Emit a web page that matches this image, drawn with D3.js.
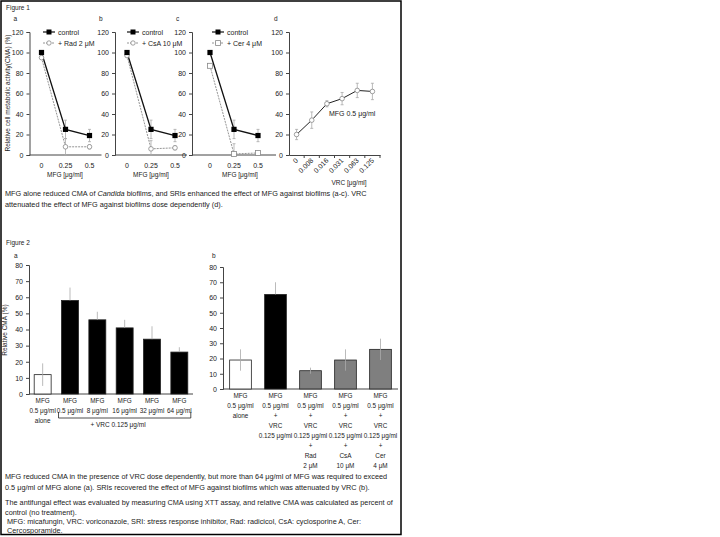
<!DOCTYPE html>
<html><head><meta charset="utf-8">
<script src="https://cdn.jsdelivr.net/npm/d3@7"></script>
<style>
body{margin:0;background:#fff;}
text{font-family:"Liberation Sans",Arial,sans-serif;fill:#222;}
</style></head><body>
<svg id="chart" width="720" height="537"></svg>
<script>
// ---------- DATA ----------
const fig1Doses = ["0", "0.25", "0.5"];
const controlVals = [100, 25, 19];
const controlErr = [0, 9, 6];
const radVals = [95, 8, 8];
const radErr = [0, 8, 2];
const csaVals = [97, 6, 7];
const csaErr = [0, 8, 2];
const cerVals = [87, 1, 2];
const cerErr = [0, 10, 2];
const fig1Y = [0, 20, 40, 60, 80, 100, 120];
const vrcDoses = ["0", "0.008", "0.016", "0.031", "0.063", "0.125"];
const vrcVals = [20, 34, 50, 55, 63, 62];
const vrcErr = [5, 8, 3, 6, 7, 8];

const fig2aLabels = [["MFG","0.5 μg/ml","alone"],["MFG","0.5 μg/ml"],["MFG","8 μg/ml"],["MFG","16 μg/ml"],["MFG","32 μg/ml"],["MFG","64 μg/ml"]];
const fig2aVals = [12, 58, 46, 41, 34, 26];
const fig2aErr = [7, 8, 5, 5, 8, 3];
const fig2bLabels = [
  ["MFG","0.5 μg/ml","alone"],
  ["MFG","0.5 μg/ml","+","VRC","0.125 μg/ml"],
  ["MFG","0.5 μg/ml","+","VRC","0.125 μg/ml","+","Rad","2 μM"],
  ["MFG","0.5 μg/ml","+","VRC","0.125 μg/ml","+","CsA","10 μM"],
  ["MFG","0.5 μg/ml","+","VRC","0.125 μg/ml","+","Cer","4 μM"]];
const fig2bVals = [19, 62, 12, 19, 26];
const fig2bErr = [7, 8, 2, 7, 7];
const fig2Y = [0, 10, 20, 30, 40, 50, 60, 70, 80];

const caption1 = ["MFG alone reduced CMA of |Candida| biofilms, and SRIs enhanced the effect of MFG against biofilms (a-c). VRC",
                  "attenuated the effect of MFG against biofilms dose dependently (d)."];
const caption2 = ["MFG reduced CMA in the presence of VRC dose dependently, but more than 64 μg/ml of MFG was required to exceed",
                  "0.5 μg/ml of MFG alone (a). SRIs recovered the effect of MFG against biofilms which was attenuated by VRC (b)."];
const caption3 = ["The antifungal effect was evaluated by measuring CMA using XTT assay, and relative CMA was calculated as percent of",
                  "control (no treatment)."];
const caption4 = ["MFG: micafungin, VRC: voriconazole, SRI: stress response inhibitor, Rad: radicicol, CsA: cyclosporine A, Cer:",
                  "Cercosporamide."];

// ---------- DRAW ----------
const svg = d3.select("#chart");
svg.append("rect").attr("width",720).attr("height",537).attr("fill","#fff");
svg.append("rect").attr("x",1).attr("y",1).attr("width",400).attr("height",533.5)
   .attr("fill","none").attr("stroke","#000").attr("stroke-width",1.5);

const FS = 7;
function txt(x,y,s,opts={}){
  const t = svg.append("text").attr("x",x).attr("y",y).attr("font-size",opts.size||FS)
    .attr("text-anchor",opts.anchor||"start").attr("fill",opts.fill||"#222");
  if(opts.rotate) t.attr("transform",`rotate(${opts.rotate},${x},${y})`);
  const parts = s.split("|");
  parts.forEach((p,i)=>{ const ts=t.append("tspan").text(p); if(i%2===1) ts.attr("font-style","italic");});
  return t;
}
txt(6,10,"Figure 1",{size:6.5});

const y1 = d3.scaleLinear().domain([0,120]).range([155,32]);
function yAxisDraw(g, scale, ticks){
  const ax = d3.axisLeft(scale).tickValues(ticks).tickSize(3).tickPadding(3);
  g.call(ax);
  g.select(".domain").attr("stroke","#444").attr("stroke-width",1);
  g.selectAll(".tick line").attr("stroke","#444");
  g.selectAll(".tick text").attr("font-size",FS).attr("font-family","Liberation Sans, Arial").attr("fill","#444");
}
function errBars(g, xs, ys, errs, y, down, color){
  xs.forEach((x,i)=>{
    if(!errs[i]) return;
    const top = y(ys[i]+errs[i]), bot = y(Math.max(0,ys[i]-(down?errs[i]:0)));
    g.append("line").attr("x1",x).attr("x2",x).attr("y1",top).attr("y2",bot).attr("stroke",color||"#999").attr("stroke-width",0.8);
    g.append("line").attr("x1",x-1.5).attr("x2",x+1.5).attr("y1",top).attr("y2",top).attr("stroke",color||"#999").attr("stroke-width",0.8);
    if(down) g.append("line").attr("x1",x-1.5).attr("x2",x+1.5).attr("y1",bot).attr("y2",bot).attr("stroke",color||"#999").attr("stroke-width",0.8);
  });
}
const panels = [
  {label:"a", range:[29.5,101.5], pad:0.5, vals:radVals, err:radErr, name:"+ Rad 2 μM", marker:"circle", legX:43, xlab:65},
  {label:"b", range:[115,187], pad:0.5, vals:csaVals, err:csaErr, name:"+ CsA 10 μM", marker:"circle", legX:127, xlab:151},
  {label:"c", range:[192,276], pad:0.75, vals:cerVals, err:cerErr, name:"+ Cer 4 μM", marker:"square", legX:212, xlab:240}
];
panels.forEach(p=>{
  const x = d3.scalePoint().domain(fig1Doses).range(p.range).padding(p.pad);
  const g = svg.append("g");
  txt(p.range[0]-16,21,p.label,{size:6.5});
  const ga = g.append("g").attr("transform",`translate(${p.range[0]},0)`);
  yAxisDraw(ga,y1,fig1Y);
  g.append("line").attr("x1",p.range[0]).attr("x2",p.range[1]).attr("y1",155).attr("y2",155).attr("stroke","#444");
  fig1Doses.forEach(d=>txt(x(d),168,d,{anchor:"middle",fill:"#444"}));
  txt(p.xlab,177,"MFG [μg/ml]",{anchor:"middle",size:6.5});
  const xs = fig1Doses.map(d=>x(d));
  const line = d3.line().x((d,i)=>xs[i]).y(d=>y1(d));
  errBars(g, xs, p.vals, p.err, y1, true, "#aaa");
  errBars(g, xs, controlVals, controlErr, y1, true, "#aaa");
  g.append("path").attr("d",line(p.vals)).attr("fill","none").attr("stroke","#888").attr("stroke-width",0.9).attr("stroke-dasharray","2,1");
  g.append("path").attr("d",line(controlVals)).attr("fill","none").attr("stroke","#111").attr("stroke-width",1.3);
  p.vals.forEach((v,i)=>{
    if(p.marker==="circle") g.append("circle").attr("cx",xs[i]).attr("cy",y1(v)).attr("r",2.3).attr("fill","#fff").attr("stroke","#888").attr("stroke-width",0.8);
    else g.append("rect").attr("x",xs[i]-2.5).attr("y",y1(v)-2.5).attr("width",5).attr("height",5).attr("fill","#fff").attr("stroke","#888").attr("stroke-width",0.8);
  });
  controlVals.forEach((v,i)=>g.append("rect").attr("x",xs[i]-2.6).attr("y",y1(v)-2.6).attr("width",5.2).attr("height",5.2).attr("fill","#000"));
  const lx = p.legX;
  g.append("line").attr("x1",lx).attr("x2",lx+12).attr("y1",32).attr("y2",32).attr("stroke","#111").attr("stroke-width",1.2);
  g.append("rect").attr("x",lx+3.5).attr("y",29.5).attr("width",5).attr("height",5).attr("fill","#000");
  txt(lx+15,34.5,"control");
  g.append("line").attr("x1",lx).attr("x2",lx+12).attr("y1",43).attr("y2",43).attr("stroke","#888").attr("stroke-width",0.9).attr("stroke-dasharray","2,1");
  if(p.marker==="circle") g.append("circle").attr("cx",lx+6).attr("cy",43).attr("r",2.2).attr("fill","#fff").attr("stroke","#888").attr("stroke-width",0.8);
  else g.append("rect").attr("x",lx+3.6).attr("y",40.6).attr("width",4.8).attr("height",4.8).attr("fill","#fff").attr("stroke","#888").attr("stroke-width",0.8);
  txt(lx+15,45.5,p.name);
});
txt(10,93,"Relative cell metabolic activity(CMA) (%)",{anchor:"middle",rotate:-90,size:6.5});

// Panel d
{
  const x = d3.scalePoint().domain(vrcDoses).range([289,380]).padding(0.5);
  const g = svg.append("g");
  txt(274,21,"d",{size:6.5});
  const ga = g.append("g").attr("transform","translate(289,0)");
  yAxisDraw(ga,y1,fig1Y);
  const xa = g.append("g").attr("transform","translate(0,155)");
  xa.call(d3.axisBottom(x).tickSize(0).tickFormat(""));
  xa.select(".domain").attr("stroke","#444");
  const step = x.step();
  vrcDoses.forEach(d=>{
    g.append("line").attr("x1",x(d)+step/2).attr("x2",x(d)+step/2).attr("y1",155).attr("y2",158).attr("stroke","#444");
    txt(x(d)+2,161,d,{anchor:"end",rotate:-45,fill:"#444"});
  });
  txt(349,185,"VRC [μg/ml]",{anchor:"middle",size:6.5});
  const xs = vrcDoses.map(d=>x(d));
  errBars(g, xs, vrcVals, vrcErr, y1, true, "#aaa");
  g.append("path").attr("d",d3.line().x((d,i)=>xs[i]).y(d=>y1(d))(vrcVals)).attr("fill","none").attr("stroke","#222").attr("stroke-width",1);
  vrcVals.forEach((v,i)=>g.append("circle").attr("cx",xs[i]).attr("cy",y1(v)).attr("r",2.3).attr("fill","#fff").attr("stroke","#888").attr("stroke-width",0.8));
  txt(329,116,"MFG 0.5 μg/ml");
}
caption1.forEach((l,i)=>txt(5,196+i*11,l,{size:7.3}));

// Figure 2
txt(6,245,"Figure 2",{size:6.5});
function barPanel(labels, vals, errs, colors, range, yRange, letterX, letter){
  const x = d3.scaleBand().domain(labels.map((d,i)=>i)).range(range).paddingInner(0.38).paddingOuter(0.19);
  const y = d3.scaleLinear().domain([0,80]).range(yRange);
  const g = svg.append("g");
  txt(letterX,258,letter,{size:6.5});
  const ga = g.append("g").attr("transform",`translate(${range[0]},0)`);
  yAxisDraw(ga,y,fig2Y);
  g.append("line").attr("x1",range[0]).attr("x2",range[1]).attr("y1",yRange[0]).attr("y2",yRange[0]).attr("stroke","#444");
  vals.forEach((v,i)=>{
    g.append("rect").attr("x",x(i)).attr("y",y(v)).attr("width",x.bandwidth()).attr("height",yRange[0]-y(v))
      .attr("fill",colors[i]).attr("stroke","#222").attr("stroke-width",0.8);
    const cx = x(i)+x.bandwidth()/2;
    const top=y(v+errs[i]);
    const bot = colors[i]==="#000"? y(v) : y(v-errs[i]);
    g.append("line").attr("x1",cx).attr("x2",cx).attr("y1",top).attr("y2",bot).attr("stroke","#aaa").attr("stroke-width",0.8);
    labels[i].forEach((l,k)=>txt(cx,yRange[0]+9+k*10,l,{anchor:"middle",size:6.4,fill:"#333"}));
  });
  return {x,y};
}
const colA = fig2aVals.map((d,i)=>i===0?"#fff":"#000");
const pa = barPanel(fig2aLabels, fig2aVals, fig2aErr, colA, [29,193], [394,265], 14, "a");
txt(7,330,"Relative CMA  (%)",{anchor:"middle",rotate:-90,size:6.5});
{
  const x0 = pa.x(1)-3, x1 = pa.x(5)+pa.x.bandwidth()+3;
  svg.append("path").attr("d",`M${x0},${412}V${418}H${x1}V${412}`).attr("fill","none").attr("stroke","#222").attr("stroke-width",0.8);
  txt(118,427,"+ VRC 0.125 μg/ml",{anchor:"middle",size:6.5});
}
const colB = ["#fff","#000","#7f7f7f","#7f7f7f","#7f7f7f"];
barPanel(fig2bLabels, fig2bVals, fig2bErr, colB, [223,398], [389,267], 212, "b");

caption2.forEach((l,i)=>txt(5,479+i*10.5,l,{size:7.3}));
caption3.forEach((l,i)=>txt(5,504.5+i*10,l,{size:7.3}));
caption4.forEach((l,i)=>txt(7,524+i*9,l,{size:7.3}));
</script></body></html>
